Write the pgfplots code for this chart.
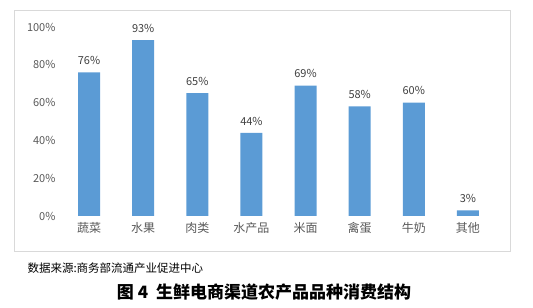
\documentclass[border=0pt]{standalone}
\usepackage{pgfplots}
\pgfplotsset{compat=1.18}
\usepackage{fontspec}
\setmainfont{Noto Sans CJK SC}
\definecolor{barblue}{HTML}{5B9BD5}
\definecolor{ticktxt}{HTML}{595959}
\definecolor{lbltxt}{HTML}{404040}
\definecolor{framec}{HTML}{D9D9D9}
\begin{document}
\begin{tikzpicture}
\path (0pt,0pt) rectangle (533pt,308pt);
\draw[framec, line width=0.8pt] (14pt,57pt) rectangle (510pt,298pt);
\begin{axis}[
  at={(62pt,92pt)}, anchor=south west,
  scale only axis, width=433pt, height=189pt,
  xmin=-0.5, xmax=7.5, ymin=0, ymax=100,
  axis line style={draw=none},
  major tick length=0pt,
  xtick=data,
  xticklabels={蔬菜,水果,肉类,水产品,米面,禽蛋,牛奶,其他},
  ytick={0,20,40,60,80,100},
  yticklabel={\pgfmathprintnumber{\tick}\%},
  /pgf/number format/assume math mode=true,
  yticklabel style={font=\fontsize{11}{12}\selectfont, text=ticktxt, xshift=-3pt},
  xticklabel style={font=\fontsize{12}{14}\selectfont, text=ticktxt, yshift=-3pt},
  ybar, bar width=22pt,
  nodes near coords={\pgfmathprintnumber{\pgfplotspointmeta}\%},
  nodes near coords style={font=\fontsize{11}{12}\selectfont, text=lbltxt, yshift=4pt, /pgf/number format/assume math mode=true},
]
\addplot[fill=barblue, draw=none] coordinates {(0,76) (1,93) (2,65) (3,44) (4,69) (5,58) (6,60) (7,3)};
\end{axis}
\node[anchor=west, font=\fontsize{11.5}{13}\selectfont] at (24pt,40pt) {数据来源:商务部流通产业促进中心};
\node[font=\fontsize{17}{19}\selectfont\bfseries] at (264pt,16pt) {图 4 \ 生鲜电商渠道农产品品种消费结构};
\end{tikzpicture}
\end{document}
